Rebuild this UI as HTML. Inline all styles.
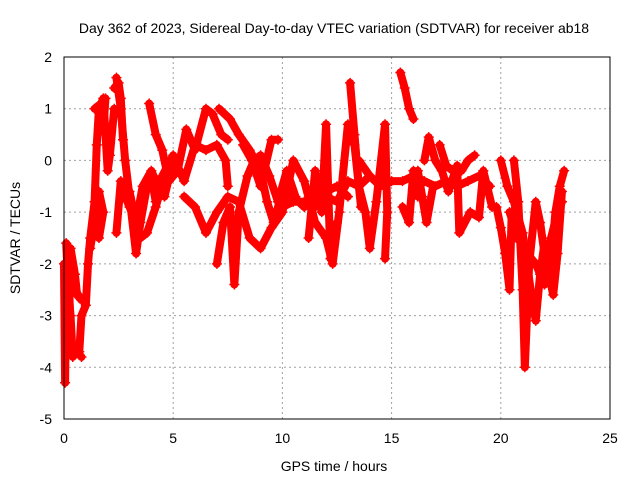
<!DOCTYPE html>
<html><head><meta charset="utf-8"><style>
body{margin:0;background:#fff;}
svg{display:block;font-family:"Liberation Sans",sans-serif;}
</style></head><body>
<svg id="chart" width="640" height="480" viewBox="0 0 640 480">
<text x="334" y="33" font-size="14" text-anchor="middle">Day 362 of 2023, Sidereal Day-to-day VTEC variation (SDTVAR) for receiver ab18</text>
<text x="334" y="471" font-size="14" text-anchor="middle">GPS time / hours</text>
<text transform="translate(20,238) rotate(-90)" font-size="14" text-anchor="middle">SDTVAR / TECUs</text>
<g id="grid"></g>
<g id="ticks"></g>
<g id="marks"></g>
<rect x="64" y="57" width="546" height="362" fill="none" stroke="#000" stroke-width="1"/>
</svg>
<script>
const xTicks=[0,5,10,15,20,25];
const yTicks=[-5,-4,-3,-2,-1,0,1,2];
const traces=[
[[0.0,-2.0],[0.05,-4.3],[0.1,-2.5],[0.2,-1.7],[0.3,-3.5],[0.5,-3.6],[0.7,-3.7],[0.8,-3.0],[1.0,-2.8],[1.1,-2.0],[1.2,-1.5],[1.4,-0.8],[1.5,0.3],[1.6,1.0],[1.8,1.2],[1.9,0.5],[2.0,-0.2],[2.1,0.1],[2.3,1.0]],
[[0.1,-1.6],[0.2,-2.5],[0.3,-3.0],[0.4,-3.8],[0.6,-3.7],[0.8,-3.8]],
[[0.3,-1.7],[0.5,-2.2],[0.6,-2.6],[0.8,-2.7],[0.5,-2.5]],
[[1.2,-1.7],[1.4,-1.2],[1.6,-0.6],[1.8,-1.0],[1.6,-1.5]],
[[1.4,1.0],[1.7,1.1],[1.9,1.2],[1.8,0.6]],
[[2.3,1.4],[2.5,1.5],[2.6,1.2],[2.7,0.4]],
[[2.4,1.6],[2.6,1.0],[2.8,0.0],[3.0,-0.7],[3.3,-1.8],[3.5,-1.2],[3.8,-0.5],[4.0,-0.3],[4.2,-0.8],[4.5,-0.3],[5.0,0.1],[5.5,-0.4],[6.0,0.3],[6.5,0.2],[7.0,0.3],[7.4,0.0],[7.5,-0.5]],
[[3.0,-0.6],[3.2,-1.0],[3.5,-1.5],[3.8,-1.4],[4.2,-0.9],[4.6,-0.3],[4.9,-0.2]],
[[3.9,1.1],[4.2,0.5],[4.5,0.2],[4.8,-0.4],[5.2,-0.2],[5.6,0.6],[6.0,0.2],[6.5,1.0],[6.8,0.9],[7.2,0.5],[7.5,0.4]],
[[2.4,-1.4],[2.6,-0.4],[2.8,-0.7],[3.0,-0.9],[3.3,-1.2],[3.6,-0.5],[4.0,-0.2],[4.3,-0.5],[4.6,-0.7],[5.0,0.0],[5.4,-0.3]],
[[7.1,1.0],[7.6,0.8],[8.0,0.5],[8.5,0.2],[9.0,-0.2],[9.3,-0.8],[9.6,-1.2],[10.0,-0.6],[10.5,-0.7],[11.0,-0.9],[11.5,-0.8],[12.0,-0.6],[12.5,-0.5],[13.0,-0.7]],
[[5.5,-0.7],[6.0,-0.9],[6.5,-1.4],[7.0,-1.0],[7.5,-0.7],[8.0,-0.8],[8.5,-1.5],[9.0,-1.7],[9.5,-1.3],[10.0,-1.0],[10.5,0.0],[11.0,-0.4],[11.5,-1.2],[12.0,-1.5],[12.3,-2.0],[12.6,-1.0],[13.0,0.7],[13.3,0.3],[13.6,-0.9]],
[[7.0,-2.0],[7.3,-1.2],[7.6,-0.9],[7.8,-2.4],[8.0,-1.0],[8.4,-0.3],[8.7,0.0],[9.0,0.1],[9.4,-0.3],[9.8,-0.8],[10.2,-0.2],[10.6,-0.7]],
[[8.2,0.3],[8.6,0.0],[9.0,-0.5],[9.5,0.4],[9.8,0.4]],
[[10.0,-0.9],[10.5,-0.8],[11.0,-0.8],[11.5,-0.9],[12.0,-0.7],[12.5,-0.8],[13.0,-0.4],[13.5,-0.5],[14.0,-0.3]],
[[11.2,-1.5],[11.5,-0.2],[11.8,-1.0],[12.0,0.7],[12.2,-1.9],[12.5,-1.2]],
[[13.1,1.5],[13.3,0.5],[13.5,-0.5],[13.8,-1.0],[14.0,-1.7],[14.3,-0.8],[14.7,0.7],[14.8,-1.0],[14.7,-1.9]],
[[13.5,0.0],[14.0,-0.3],[14.5,-0.5],[15.0,-0.4],[15.5,-0.4],[16.0,-0.3],[16.5,-0.4],[17.0,-0.5],[17.5,-0.4],[18.0,-0.5],[18.5,-0.4],[19.0,-0.3],[19.5,-0.5]],
[[15.4,1.7],[15.6,1.4],[15.8,1.0],[16.0,0.8]],
[[15.5,-0.9],[15.8,-1.2],[16.0,-0.2],[16.2,-0.7]],
[[16.5,0.0],[16.7,0.45],[17.0,0.0],[17.3,-0.2],[17.6,-0.6],[18.0,-0.1],[18.1,-1.4],[18.6,-1.0],[19.0,-1.1],[19.2,-0.2],[19.6,-0.9]],
[[16.2,-0.2],[16.4,-0.7],[16.6,-1.2],[16.9,-0.5]],
[[17.2,0.3],[17.5,-0.1],[17.8,-0.2],[18.2,-0.2],[18.5,0.0],[18.8,0.1]],
[[19.8,-0.9],[20.0,-1.3],[20.2,-1.8],[20.4,-2.5],[20.5,-1.0],[20.7,-1.5]],
[[20.0,0.0],[20.3,-0.5],[20.6,-0.8],[21.0,-1.4],[21.2,-2.0],[21.4,-2.6],[21.6,-3.1],[21.8,-2.2],[22.0,-1.6],[22.2,-2.2],[22.4,-2.6],[22.6,-1.8],[22.8,-0.6]],
[[20.6,0.0],[20.8,-0.8],[21.0,-2.5],[21.1,-4.0],[21.3,-2.0],[21.6,-0.8],[21.8,-1.2],[22.0,-1.8],[22.3,-2.0],[22.5,-1.0],[22.7,-0.5],[22.9,-0.2]],
[[20.4,-1.0],[20.8,-1.5],[21.2,-1.8],[21.6,-2.0],[22.0,-2.4],[22.3,-1.5],[22.6,-1.0],[22.8,-0.8]]
];
const NS="http://www.w3.org/2000/svg";
const X=v=>64+v*(546/25);
const Y=v=>419-(v+5)*(362/7);
const grid=document.getElementById('grid'),ticks=document.getElementById('ticks'),marks=document.getElementById('marks');
function mk(tag,attrs,parent){const e=document.createElementNS(NS,tag);for(const k in attrs)e.setAttribute(k,attrs[k]);parent.appendChild(e);return e;}
xTicks.forEach(t=>{
  const l=mk('line',{x1:X(t),x2:X(t),y1:57,y2:419,stroke:'#a0a0a0','stroke-dasharray':'2,3'},grid);
  
  
  const tx=mk('text',{x:X(t),y:443,'font-size':14,'text-anchor':'middle'},ticks);
  tx.textContent=t;
  
  
});
yTicks.forEach(t=>{
  const l=mk('line',{x1:64,x2:610,y1:Y(t),y2:Y(t),stroke:'#a0a0a0','stroke-dasharray':'2,3'},grid);
  
  
  const tx=mk('text',{x:52,y:Y(t)+5,'font-size':14,'text-anchor':'end'},ticks);
  tx.textContent=t;
  
  
});
traces.forEach(tr=>{
  const pl=mk('polyline',{points:tr.map(p=>X(p[0])+','+Y(p[1])).join(' '),fill:'none',stroke:'#f00','stroke-width':8,'stroke-linejoin':'round','stroke-linecap':'round'},marks);
  
  
  tr.forEach(p=>{
    const x=X(p[0]),y=Y(p[1]);
    const pt=mk('path',{d:`M${x-5},${y}h10M${x},${y-5}v10`,stroke:'#f00','stroke-width':1.5},marks);
    
    
  });
});
</script>
</body></html>
